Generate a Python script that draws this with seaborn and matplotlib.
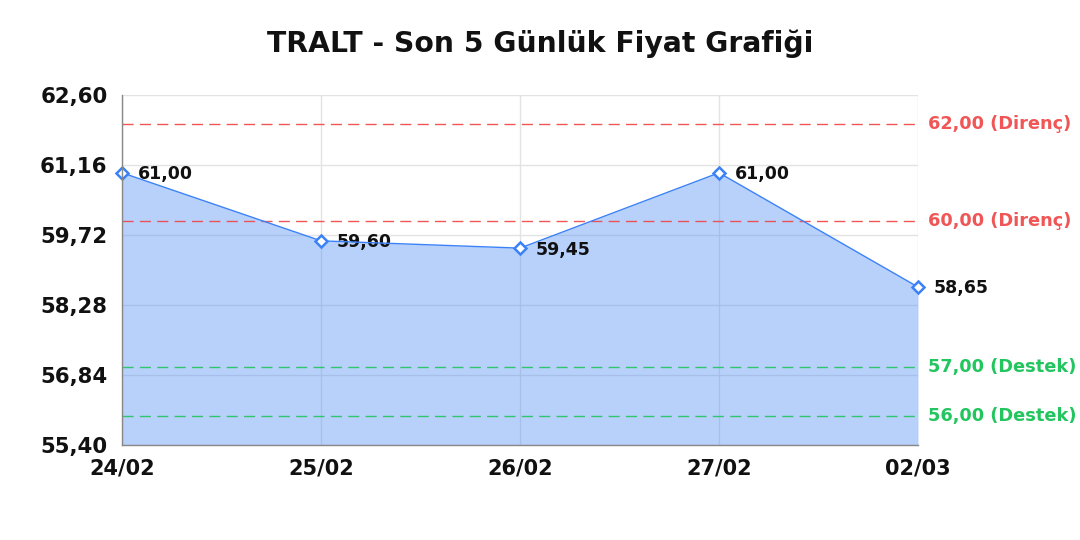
import os
import numpy as np
import pandas as pd
import matplotlib
matplotlib.use("Agg")
import matplotlib.pyplot as plt
from matplotlib import font_manager as fm
import seaborn as sns

# veriler
tarihler = ["24/02", "25/02", "26/02", "27/02", "02/03"]
fiyatlar = [61.00, 59.60, 59.45, 61.00, 58.65]
direncler = [62.00, 60.00]
destekler = [57.00, 56.00]
y_ticks = [55.40, 56.84, 58.28, 59.72, 61.16, 62.60]

MAVI = "#3b82f6"
KIRMIZI = "#ef4444"
YESIL = "#22c55e"

def tr(v):
    return f"{v:.2f}".replace(".", ",")

sns.set_theme(style="whitegrid")

# matplotlib ile gelen DejaVu Sans Bold
bold_yol = os.path.join(matplotlib.get_data_path(), "fonts", "ttf", "DejaVuSans-Bold.ttf")
def fp(size):
    return fm.FontProperties(fname=bold_yol, size=size)

df = pd.DataFrame({"x": np.arange(len(tarihler)), "fiyat": fiyatlar})

fig = plt.figure(figsize=(10.8, 5.4), dpi=100)
ax = fig.add_axes([0.113, 0.176, 0.737, 0.648])

ax.fill_between(df["x"], df["fiyat"], y_ticks[0], color=MAVI, alpha=0.36, linewidth=0, zorder=2)
sns.lineplot(data=df, x="x", y="fiyat", ax=ax, color=MAVI, linewidth=1,
             marker="D", markersize=6.5, markerfacecolor="white",
             markeredgecolor=MAVI, markeredgewidth=1.8, zorder=5, clip_on=False)

for x, y in zip(df["x"], df["fiyat"]):
    ax.annotate(tr(y), (x, y), xytext=(11.5, -1), textcoords="offset points",
                ha="left", va="center", fontproperties=fp(12.5), color="#111111")

kesik = (0, (8, 4.5))
for d in direncler:
    ax.axhline(d, color=KIRMIZI, linestyle=kesik, linewidth=1, alpha=0.9, zorder=3)
    ax.text(1.013, d, f"{tr(d)} (Direnç)", transform=ax.get_yaxis_transform(),
            ha="left", va="center", fontproperties=fp(12.8), color=KIRMIZI, alpha=0.9)
for d in destekler:
    ax.axhline(d, color=YESIL, linestyle=kesik, linewidth=1, alpha=0.9, zorder=3)
    ax.text(1.013, d, f"{tr(d)} (Destek)", transform=ax.get_yaxis_transform(),
            ha="left", va="center", fontproperties=fp(12.8), color=YESIL)

ax.set_xlim(0, len(tarihler) - 1)
ax.set_ylim(y_ticks[0], y_ticks[-1])
ax.set_xticks(df["x"])
ax.set_xticklabels(tarihler)
ax.set_yticks(y_ticks)
ax.set_yticklabels([tr(v) for v in y_ticks])
ax.tick_params(axis="both", length=0, colors="#111111")
ax.tick_params(axis="y", pad=10.5)
ax.tick_params(axis="x", pad=9.5)
for lbl in ax.get_yticklabels():
    lbl.set_fontproperties(fp(15.3))
for lbl in ax.get_xticklabels():
    lbl.set_fontproperties(fp(15))

ax.grid(True, color="#e3e3e3", linewidth=1)
ax.set_axisbelow(True)
for s in ["top", "right"]:
    ax.spines[s].set_visible(False)
for s in ["left", "bottom"]:
    ax.spines[s].set_color("#888888")
    ax.spines[s].set_linewidth(1)
    ax.spines[s].set_zorder(6)
ax.set_xlabel("")
ax.set_ylabel("")
ax.set_facecolor("white")

fig.text(0.5, 1 - 44 / 540, "TRALT - Son 5 Günlük Fiyat Grafiği", ha="center", va="center",
         fontproperties=fp(20.3), color="#111111")

fig.savefig("out.png", dpi=100)
